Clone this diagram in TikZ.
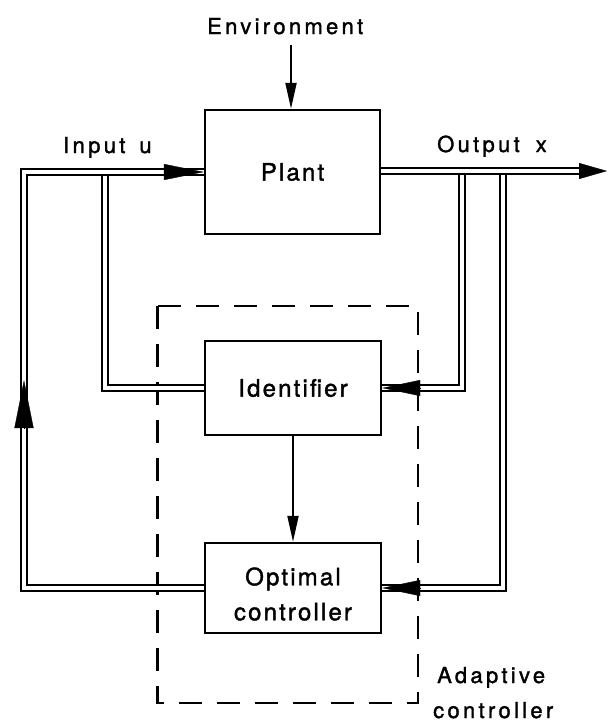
\documentclass[tikz,border=0pt]{standalone}
\usepackage{fontspec}
\setmainfont{TeX Gyre Heros}
\newfontfamily\lblfont{TeX Gyre Heros}[LetterSpace=15,FakeBold=1.5]
\newfontfamily\boxfont{TeX Gyre Heros}[LetterSpace=9,FakeBold=1.5]
\usetikzlibrary{arrows.meta,calc}
\begin{document}
\begin{tikzpicture}[x=1pt,y=-1pt,
  box/.style={draw, line width=2.4pt, inner sep=0pt, font=\boxfont\fontsize{24}{35}\selectfont, align=center},
  boxtext/.style={inner sep=0pt, font=\boxfont\fontsize{24}{35}\selectfont, align=center},
  lbl/.style={inner sep=0pt, font=\lblfont\fontsize{22}{26}\selectfont},
  dbl/.style={draw, double=white, double distance=3.6pt, line width=2.4pt, line join=miter},
  sarrow/.style={draw, line width=2pt, -{Triangle[length=26pt,width=11pt]}},
  bigtip/.style={line width=0.4pt, -{Triangle[length=#1pt,width=16pt]}},
  uptip/.style={line width=0.4pt, -{Triangle[length=48pt,width=19pt]}},
  dashbox/.style={draw, line width=2.5pt, dash pattern=on 23pt off 15pt}]
\useasboundingbox (0,0) rectangle (611,723);

% boxes
\node[box, minimum width=175pt, minimum height=124pt] (plant) at (292.5,172) {Plant};
\node[box, minimum width=176pt, minimum height=94pt] (ident) at (293,388) {Identifier};
\node[box, minimum width=176pt, minimum height=90pt] (opt) at (293,588) {};
\node[boxtext] (optlbl) at ($(opt.center)+(0,6)$) {Optimal\\controller};

% adaptive controller frame
\draw[dashbox] (157.5,306) rectangle (418,703);

% coordinates
\coordinate (lx) at (24,0);
\coordinate (bx) at (105,0);
\coordinate (ox1) at (462,0);
\coordinate (ox2) at (503,0);
\coordinate (outend) at (607,171);
\coordinate (envtop) at (291,45);
\coordinate (uptipend) at (24,380);

% branches (drawn first so main lines lie on top)
\path[dbl] (plant.west -| bx) -- (ident.west -| bx) -- (ident.west);
\path[dbl] (outend -| ox1) -- (ident.east -| ox1) -- (ident.east);
\path[dbl] (outend -| ox2) -- (opt.east -| ox2) -- (opt.east);

% main lines
\path[dbl] (opt.west) -- (opt.west -| lx) -- (plant.west -| lx) -- (plant.west);
\path[dbl] (plant.east |- outend) -- ($(outend)+(-20,0)$);

% arrowheads on double lines
\draw[bigtip=40] ($(plant.west)+(-40,0)$) -- (plant.west);
\draw[bigtip=38] ($(ident.east)+(38,0)$) -- (ident.east);
\draw[bigtip=38] ($(opt.east)+(38,0)$) -- (opt.east);
\draw[bigtip=28] ($(outend)+(-28,0)$) -- (outend);
\draw[uptip] ($(uptipend)+(0,48)$) -- (uptipend);

% single arrows
\draw[sarrow] (envtop) -- (envtop |- plant.north);
\draw[sarrow] (ident.south) -- (opt.north);

% labels
\node[lbl, anchor=base west] (env) at (207,34) {Environment};
\node[lbl, anchor=base west] (inlbl) at (63,153) {Input\hspace{14pt}u};
\node[lbl, anchor=base west] (outlbl) at (437,152) {Output\hspace{16pt}x};
\node[lbl, anchor=base west] (adapt1) at (437,683) {Adaptive};
\node[lbl, anchor=base west] (adapt2) at (433,718) {controller};
\end{tikzpicture}
\end{document}
